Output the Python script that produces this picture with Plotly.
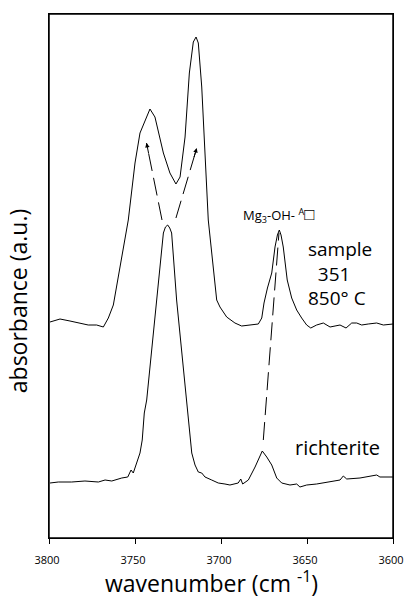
import plotly.graph_objects as go

# ---- data (wavenumber in cm^-1, absorbance in arbitrary units) ----
sample_wn = [3799.4, 3793.6, 3787.8, 3783.0, 3777.2, 3772.3, 3768.4, 3765.5, 3762.6,
             3753.9, 3750.0, 3747.1, 3744.2, 3741.3, 3738.4, 3736.5, 3733.5, 3729.7,
             3726.2, 3723.8, 3720.9, 3718.4, 3716.1, 3714.5, 3713.2, 3711.2, 3709.3,
             3707.4, 3702.5, 3700.6, 3696.7, 3691.9, 3688.0, 3683.1, 3678.3, 3676.3,
             3675.0, 3673.0, 3670.5, 3668.6, 3667.2, 3666.1, 3665.1, 3663.8, 3661.5,
             3658.9, 3656.0, 3653.1, 3650.2, 3647.8, 3644.4, 3640.5, 3636.6, 3633.7,
             3630.8, 3627.3, 3624.0, 3621.1, 3618.2, 3614.4, 3609.5, 3605.6, 3600.0]
sample_abs = [216, 219, 217, 215, 213, 213, 211, 220, 233,
              318, 375, 405, 418, 429, 421, 408, 385, 365,
              354, 361, 401, 465, 496, 501, 495, 451, 385,
              318, 238, 231, 221, 215, 212, 213, 214, 220,
              235, 250, 265, 291, 303, 308, 303, 291, 258,
              240, 228, 220, 213, 210, 213, 215, 211, 212,
              213, 210, 215, 215, 213, 214, 215, 213, 214]

richterite_wn = [3799.4, 3794.6, 3786.8, 3779.1, 3771.3, 3767.4, 3763.5, 3757.7, 3754.2,
                 3752.3, 3751.0, 3749.0, 3747.1, 3745.8, 3744.6, 3743.2, 3740.3, 3737.4,
                 3733.5, 3732.3, 3731.0, 3729.8, 3728.7, 3725.8, 3721.9, 3719.4, 3717.0,
                 3715.1, 3713.2, 3711.2, 3709.3, 3705.4, 3701.6, 3697.7, 3694.8, 3690.0,
                 3688.5, 3687.4, 3684.1, 3680.2, 3676.0, 3673.4, 3670.5, 3667.6, 3664.7,
                 3659.9, 3656.0, 3654.1, 3650.2, 3644.4, 3636.6, 3630.8, 3628.9, 3626.9,
                 3619.2, 3615.3, 3609.5, 3607.6, 3600.0]
richterite_abs = [55, 56, 56, 57, 56, 58, 57, 60, 61,
                  68, 65, 76, 85, 98, 125, 138, 188, 238,
                  305, 311, 313, 310, 305, 238, 171, 121, 85,
                  73, 66, 65, 61, 58, 55, 54, 53, 55,
                  59, 54, 58, 71, 87, 81, 73, 60, 55,
                  53, 54, 51, 53, 54, 56, 58, 62, 59,
                  60, 61, 63, 61, 61]

# dashed guide lines: (tail, head) pairs
shift_left_wn = [3734.3, 3743.3]
shift_left_abs = [318, 395]
shift_right_wn = [3726.2, 3714.1]
shift_right_abs = [320, 390]
mg_guide_wn = [3675.4, 3666.3]
mg_guide_abs = [98, 305]

x_ticks = [3800, 3750, 3700, 3650, 3600]
x_ticktext = ["3800", "3750", "3700", "3650", "3600"]

FONT = "Open Sans"

fig = go.Figure()
fig.add_trace(go.Scatter(x=sample_wn, y=sample_abs, mode="lines",
                         line=dict(color="black", width=1), showlegend=False))
fig.add_trace(go.Scatter(x=richterite_wn, y=richterite_abs, mode="lines",
                         line=dict(color="black", width=1), showlegend=False))
for gx, gy in [(shift_left_wn, shift_left_abs), (shift_right_wn, shift_right_abs),
               (mg_guide_wn, mg_guide_abs)]:
    fig.add_trace(go.Scatter(x=gx, y=gy, mode="lines",
                             line=dict(color="black", width=1, dash="18px,7px"),
                             showlegend=False))

# arrow heads
for gx, gy in [(shift_left_wn, shift_left_abs), (shift_right_wn, shift_right_abs)]:
    fx = gx[0] + (gx[1] - gx[0]) * 0.85
    fy = gy[0] + (gy[1] - gy[0]) * 0.85
    fig.add_annotation(x=gx[1], y=gy[1], ax=fx, ay=fy, xref="x", yref="y",
                       axref="x", ayref="y", showarrow=True, arrowhead=2,
                       arrowsize=0.9, arrowwidth=1, arrowcolor="black", text="")

fig.add_annotation(x=3666.3, y=324, xref="x", yref="y", showarrow=False,
                   text="Mg<sub>3</sub>-OH- <sup>A</sup><span style='font-size:17px'>□</span>",
                   font=dict(family=FONT, size=13, color="black"))
fig.add_annotation(x=3650.6, y=265, xref="x", yref="y", showarrow=False,
                   xanchor="left", yanchor="middle", align="left",
                   text="sample<br>\u00a0\u00a0351<br>850° C",
                   font=dict(family=FONT, size=19, color="black"))
fig.add_annotation(x=3632.0, y=91, xref="x", yref="y", showarrow=False,
                   text="richterite",
                   font=dict(family=FONT, size=20, color="black"))

fig.add_annotation(x=0.471, y=-0.084, xref="paper", yref="paper", showarrow=False,
                   xanchor="center", yanchor="middle",
                   text="wavenumber (cm <sup>-1</sup>)",
                   font=dict(family=FONT, size=23, color="black"))
fig.add_annotation(x=-0.09, y=0.452, xref="paper", yref="paper", showarrow=False,
                   xanchor="center", yanchor="middle", textangle=-90,
                   text="absorbance (a.u.)",
                   font=dict(family=FONT, size=23, color="black"))

fig.add_shape(type="rect", xref="paper", yref="paper", x0=0, x1=1, y0=0, y1=1,
              line=dict(color="black", width=1.5), layer="above")

fig.update_layout(
    width=406, height=599, autosize=False,
    margin=dict(l=49, r=13, t=14, b=61, autoexpand=False),
    paper_bgcolor="white", plot_bgcolor="white",
    font=dict(family=FONT, color="black"),
    xaxis=dict(range=[3800, 3600], tickvals=x_ticks, ticktext=x_ticktext,
               ticks="outside", ticklen=5, tickcolor="black", tickwidth=1,
               ticklabeloverflow="allow", ticklabelstandoff=7, ticklabelshift=2,
               automargin=False,
               showline=True, linecolor="black", linewidth=1, mirror=True,
               showgrid=False, zeroline=False,
               tickfont=dict(family=FONT, size=11, color="black")),
    yaxis=dict(range=[0, 524], showticklabels=False, ticks="", automargin=False,
               showline=True, linecolor="black", linewidth=1, mirror=True,
               showgrid=False, zeroline=False),
)

fig.write_html("out.html", config={"responsive": False})
